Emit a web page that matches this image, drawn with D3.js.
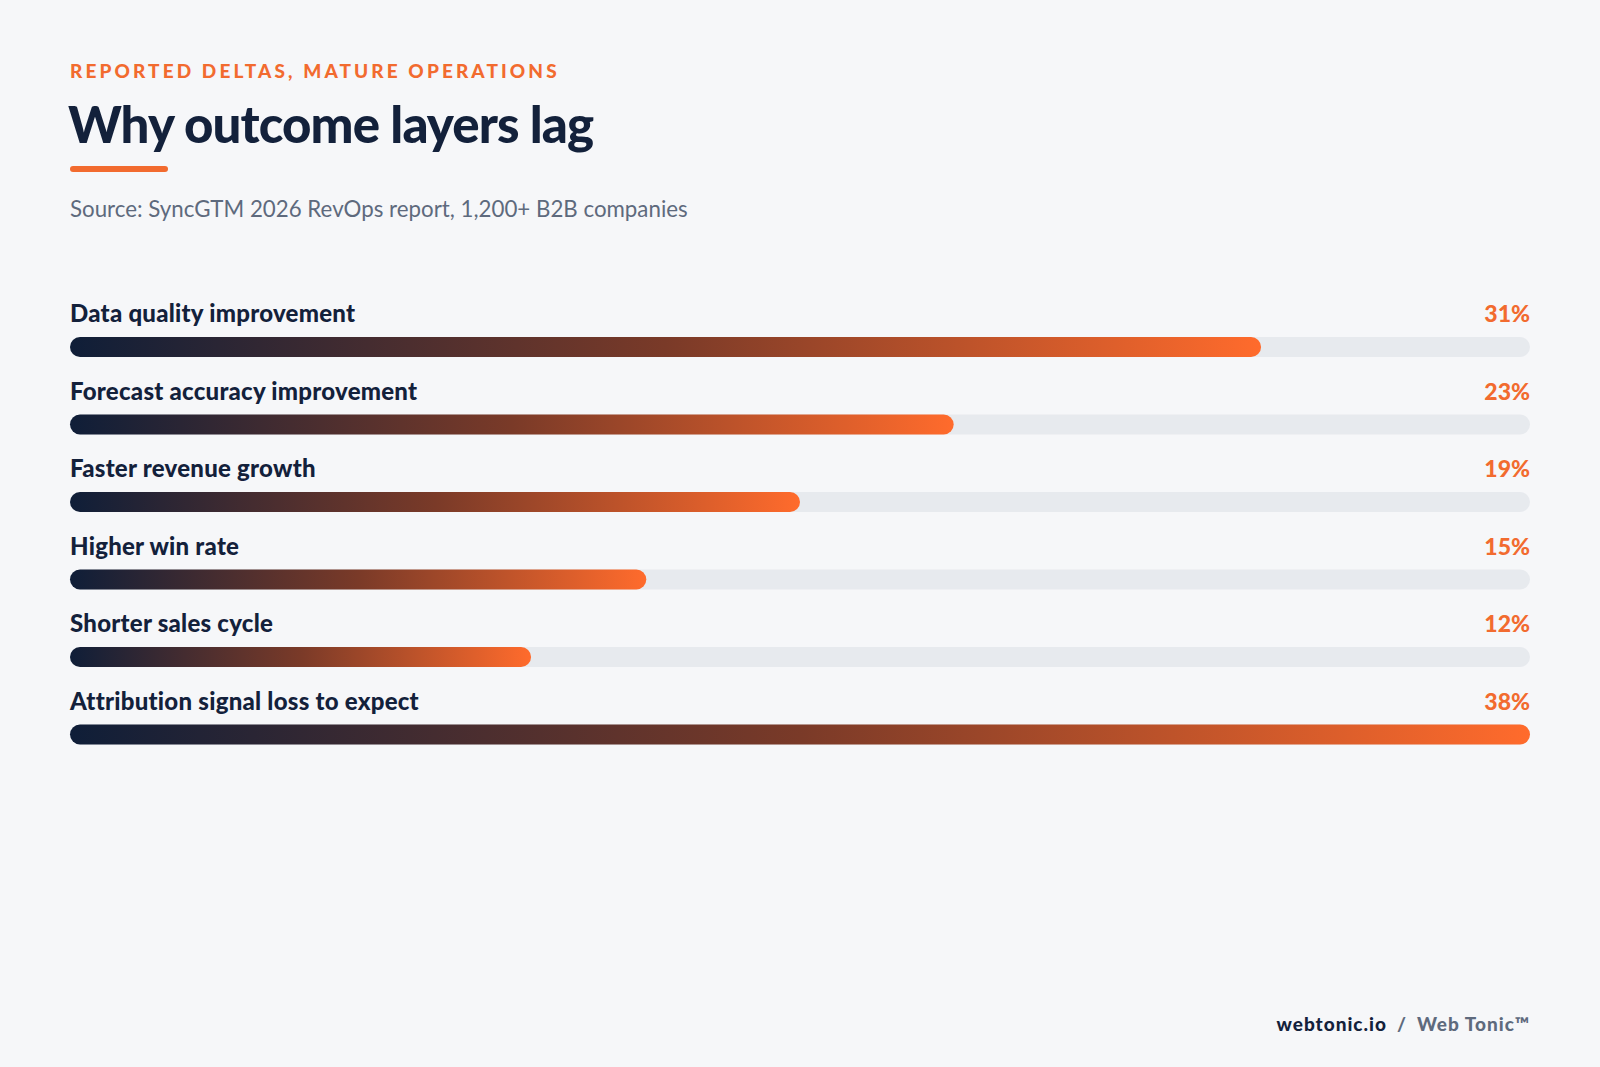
<!DOCTYPE html>
<html><head><meta charset="utf-8">
<script src="https://cdn.jsdelivr.net/npm/d3@7"></script>
<style>
html,body{margin:0;padding:0;background:#f6f7f9;}
svg{display:block;font-family:Lato,sans-serif;}
</style></head>
<body><svg id="chart" width="1600" height="1067"></svg>
<script>
const labels = ['Data quality improvement','Forecast accuracy improvement','Faster revenue growth','Higher win rate','Shorter sales cycle','Attribution signal loss to expect'];
const values = [31, 23, 19, 15, 12, 38];
const maxVal = 38;

const svg = d3.select('#chart');
const L = 70, R = 1530;

const defs = svg.append('defs');
const grad = defs.append('linearGradient').attr('id','barGrad');
grad.append('stop').attr('offset','0%').attr('stop-color','#0f1e38');
grad.append('stop').attr('offset','50%').attr('stop-color','#7a3a28');
grad.append('stop').attr('offset','100%').attr('stop-color','#ff6b2c');

svg.append('text').attr('x',L).attr('y',78).attr('fill','#f26b2f')
  .attr('font-size',19).attr('font-weight',900).attr('letter-spacing',3.1)
  .text('REPORTED DELTAS, MATURE OPERATIONS');
svg.append('text').attr('x',L-2).attr('y',143).attr('fill','#13213b')
  .attr('font-size',51).attr('font-weight',900).attr('letter-spacing',-0.9)
  .text('Why outcome layers lag');
svg.append('rect').attr('x',L).attr('y',166).attr('width',98).attr('height',6).attr('rx',3).attr('fill','#f26b2f');
svg.append('text').attr('x',L).attr('y',217).attr('fill','#5e6a7d')
  .attr('font-size',22.3).text('Source: SyncGTM 2026 RevOps report, 1,200+ B2B companies');

const x = d3.scaleLinear().domain([0,maxVal]).range([L,R]);
const y = d3.scaleBand().domain(labels).range([296,761]).paddingInner(0);

const row = svg.selectAll('g.row').data(labels).enter().append('g').attr('class','row')
  .attr('transform',d=>'translate(0,'+y(d)+')');
row.append('text').attr('x',L).attr('y',26).attr('fill','#13213b')
  .attr('font-size',24).attr('font-weight',900).attr('letter-spacing',0.25).text(d=>d);
row.append('text').attr('x',R).attr('y',26).attr('text-anchor','end').attr('fill','#f26b2f')
  .attr('font-size',23).attr('font-weight',900).text((d,i)=>values[i]+'%');
row.append('rect').attr('x',L).attr('y',41).attr('width',R-L).attr('height',20).attr('rx',10).attr('fill','#e7eaee');
row.append('rect').attr('x',L).attr('y',41).attr('width',(d,i)=>x(values[i])-L).attr('height',20).attr('rx',10)
  .attr('fill','url(#barGrad)');

const foot = svg.append('text').attr('x',R).attr('y',1031).attr('text-anchor','end')
  .attr('font-size',19).attr('font-weight',900).attr('letter-spacing',1);
foot.append('tspan').attr('fill','#13213b').text('webtonic.io');
foot.append('tspan').attr('fill','#5e6a7d').attr('dx',10).text('/');
foot.append('tspan').attr('fill','#5e6a7d').attr('dx',10).text('Web Tonic™');
</script></body></html>
